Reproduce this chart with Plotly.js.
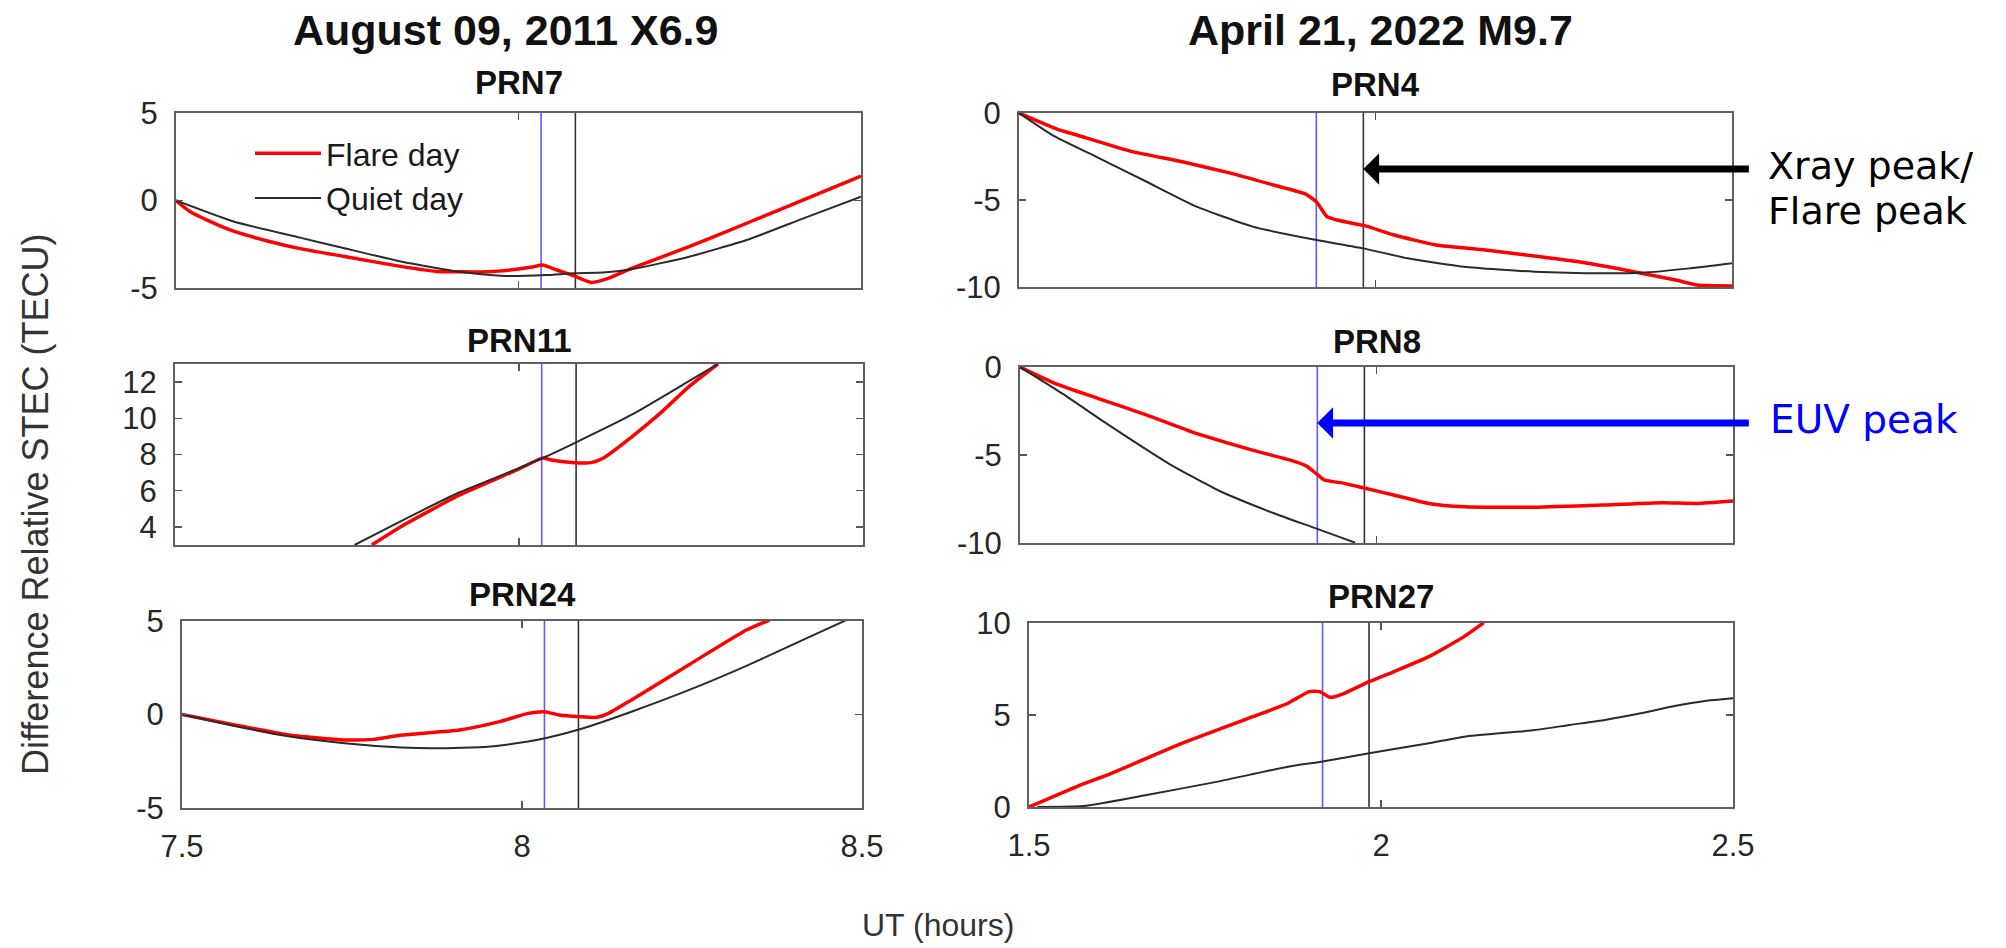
<!DOCTYPE html>
<html>
<head>
<meta charset="utf-8">
<script src="https://cdn.plot.ly/plotly-3.0.1.min.js"></script>
<style>html,body{margin:0;padding:0;background:#fff;}#chart{width:2006px;height:948px;}</style>
</head>
<body>
<div id="chart"></div>
<script>
// ---------------- DATA ----------------
// August 09, 2011 X6.9 — PRN7
var prn7FlareTime  = [7.5, 7.52, 7.56, 7.584, 7.632, 7.681, 7.746, 7.83, 7.88, 7.955, 7.997, 8.02, 8.035, 8.056, 8.081, 8.106, 8.131, 8.165, 8.249, 8.333, 8.416, 8.5];
var prn7Flare      = [0, -0.62, -1.38, -1.75, -2.3, -2.75, -3.2, -3.78, -4.05, -4.07, -3.93, -3.8, -3.69, -3.97, -4.31, -4.68, -4.45, -3.88, -2.64, -1.3, 0.03, 1.4];
var prn7QuietTime  = [7.5, 7.584, 7.681, 7.746, 7.83, 7.913, 7.98, 8.04, 8.081, 8.123, 8.165, 8.249, 8.333, 8.416, 8.5];
var prn7Quiet      = [0, -1.2, -2.12, -2.73, -3.5, -4.07, -4.31, -4.26, -4.16, -4.12, -3.93, -3.21, -2.26, -1.02, 0.22];
// PRN11
var prn11FlareTime = [7.786, 7.83, 7.913, 7.997, 8.034, 8.047, 8.08, 8.105, 8.122, 8.164, 8.205, 8.247, 8.289];
var prn11Flare     = [3.0, 4.05, 5.75, 7.15, 7.8, 7.7, 7.55, 7.55, 7.79, 8.98, 10.27, 11.75, 13.0];
var prn11QuietTime = [7.761, 7.83, 7.913, 7.997, 8.037, 8.08, 8.164, 8.247, 8.289];
var prn11Quiet     = [3.0, 4.35, 5.9, 7.2, 7.85, 8.62, 10.2, 12.05, 13.0];
// PRN24
var prn24FlareTime = [7.5, 7.57, 7.654, 7.739, 7.781, 7.823, 7.908, 7.967, 8.009, 8.033, 8.055, 8.085, 8.11, 8.127, 8.161, 8.245, 8.33, 8.364];
var prn24Flare     = [0, -0.5, -1.08, -1.36, -1.33, -1.1, -0.83, -0.38, 0.06, 0.15, -0.03, -0.12, -0.15, 0.06, 0.78, 2.65, 4.52, 5.05];
var prn24QuietTime = [7.5, 7.57, 7.654, 7.739, 7.823, 7.874, 7.95, 8.009, 8.034, 8.085, 8.161, 8.245, 8.33, 8.414, 8.477];
var prn24Quiet     = [0, -0.56, -1.15, -1.54, -1.77, -1.81, -1.72, -1.45, -1.27, -0.79, 0.15, 1.3, 2.6, 4.0, 5.05];

// April 21, 2022 M9.7 — PRN4
var prn4FlareTime  = [1.5, 1.555, 1.58, 1.659, 1.729, 1.798, 1.857, 1.902, 1.917, 1.932, 1.946, 1.986, 2.025, 2.085, 2.154, 2.223, 2.283, 2.362, 2.421, 2.451, 2.5];
var prn4Flare      = [0, -0.95, -1.25, -2.22, -2.8, -3.47, -4.14, -4.66, -5.1, -5.96, -6.15, -6.49, -7.0, -7.59, -7.87, -8.22, -8.54, -9.12, -9.6, -9.89, -9.94];
var prn4QuietTime  = [1.5, 1.55, 1.61, 1.679, 1.749, 1.828, 1.917, 1.983, 2.045, 2.124, 2.223, 2.322, 2.372, 2.441, 2.5];
var prn4Quiet      = [0, -1.35, -2.55, -3.95, -5.38, -6.53, -7.3, -7.78, -8.35, -8.83, -9.12, -9.21, -9.18, -8.93, -8.64];
// PRN8
var prn8FlareTime  = [1.5, 1.549, 1.609, 1.678, 1.747, 1.826, 1.886, 1.903, 1.915, 1.927, 1.955, 1.984, 2.024, 2.073, 2.123, 2.222, 2.321, 2.4, 2.449, 2.5];
var prn8Flare      = [0, -0.93, -1.78, -2.73, -3.77, -4.72, -5.38, -5.66, -6.04, -6.42, -6.61, -6.89, -7.27, -7.75, -7.94, -7.97, -7.84, -7.71, -7.75, -7.61];
var prn8QuietTime  = [1.5, 1.559, 1.628, 1.708, 1.777, 1.856, 1.915, 1.97];
var prn8Quiet      = [0, -1.5, -3.39, -5.47, -6.99, -8.31, -9.17, -9.98];
// PRN27
var prn27FlareTime = [1.5, 1.567, 1.617, 1.717, 1.818, 1.868, 1.898, 1.913, 1.928, 1.948, 1.983, 2.018, 2.068, 2.118, 2.146];
var prn27Flare     = [0, 1.1, 1.83, 3.46, 4.91, 5.64, 6.27, 6.27, 5.96, 6.18, 6.81, 7.35, 8.17, 9.26, 10.02];
var prn27QuietTime = [1.512, 1.577, 1.667, 1.768, 1.868, 1.915, 1.983, 2.068, 2.118, 2.218, 2.268, 2.318, 2.369, 2.419, 2.46, 2.5];
var prn27Quiet     = [0, 0.05, 0.65, 1.38, 2.19, 2.46, 2.92, 3.46, 3.82, 4.18, 4.46, 4.73, 5.09, 5.5, 5.76, 5.91];

// event markers: [Aug 2011, Apr 2022]
var euvPeakTimes  = [8.033, 1.917];
var xrayPeakTimes = [8.083, 1.983];

// titles and tick labels
var eventTitles = ['August 09, 2011 X6.9', 'April 21, 2022 M9.7'];
var prnTitles = ['PRN7', 'PRN4', 'PRN11', 'PRN8', 'PRN24', 'PRN27'];
var seriesNames = ['Flare day', 'Quiet day'];
var xTickValsAug = [7.5, 8, 8.5], xTickTextAug = ['7.5', '8', '8.5'];
var xTickValsApr = [1.5, 2, 2.5], xTickTextApr = ['1.5', '2', '2.5'];
var yTicks5  = [-5, 0, 5],   yTickText5  = ['-5', '0', '5'];
var yTicks10 = [-10, -5, 0], yTickText10 = ['-10', '-5', '0'];
var yTicks11 = [4, 6, 8, 10, 12], yTickText11 = ['4', '6', '8', '10', '12'];
var yTicks27 = [0, 5, 10],   yTickText27 = ['0', '5', '10'];

// ---------------- LAYOUT / TRACES ----------------
var W = 2006, H = 948;
function px2x(p) { return p / W; }
function px2y(p) { return 1 - p / H; }

var panels = [
  {ft: prn7FlareTime,  f: prn7Flare,  qt: prn7QuietTime,  q: prn7Quiet,  box: [176, 861, 113, 288], xr: [7.5, 8.5], yr: [-5, 5],   xt: [xTickValsAug, xTickTextAug], yt: [yTicks5, yTickText5],   ev: 0, lab: false, ty: 83},
  {ft: prn4FlareTime,  f: prn4Flare,  qt: prn4QuietTime,  q: prn4Quiet,  box: [1019, 1732, 113, 287], xr: [1.5, 2.5], yr: [-10, 0], xt: [xTickValsApr, xTickTextApr], yt: [yTicks10, yTickText10], ev: 1, lab: false, ty: 85},
  {ft: prn11FlareTime, f: prn11Flare, qt: prn11QuietTime, q: prn11Quiet, box: [175, 863, 364, 545], xr: [7.5, 8.5], yr: [3, 13],   xt: [xTickValsAug, xTickTextAug], yt: [yTicks11, yTickText11], ev: 0, lab: false, ty: 340},
  {ft: prn8FlareTime,  f: prn8Flare,  qt: prn8QuietTime,  q: prn8Quiet,  box: [1020, 1733, 367, 543], xr: [1.5, 2.5], yr: [-10, 0], xt: [xTickValsApr, xTickTextApr], yt: [yTicks10, yTickText10], ev: 1, lab: false, ty: 341},
  {ft: prn24FlareTime, f: prn24Flare, qt: prn24QuietTime, q: prn24Quiet, box: [182, 862, 621, 808], xr: [7.5, 8.5], yr: [-5, 5],   xt: [xTickValsAug, xTickTextAug], yt: [yTicks5, yTickText5],   ev: 0, lab: true, ty: 594},
  {ft: prn27FlareTime, f: prn27Flare, qt: prn27QuietTime, q: prn27Quiet, box: [1029, 1733, 623, 807], xr: [1.5, 2.5], yr: [0, 10],  xt: [xTickValsApr, xTickTextApr], yt: [yTicks27, yTickText27], ev: 1, lab: true, ty: 596}
];

var tickFont = {family: 'Liberation Sans, Arial, sans-serif', size: 31, color: '#262626'};
function axisBase(domain, range, tv, tt, showLabels, anchor, standoff) {
  return {
    domain: domain, range: range, anchor: anchor,
    tickmode: 'array', tickvals: tv, ticktext: tt, showticklabels: showLabels,
    ticks: 'inside', ticklen: 7, tickwidth: 1.5, tickcolor: '#555',
    showline: true, mirror: 'ticks', linecolor: '#606060', linewidth: 2,
    showgrid: false, zeroline: false, fixedrange: true,
    tickfont: tickFont, ticklabelstandoff: standoff
  };
}

var traces = [], shapes = [], annotations = [];
var layout = {
  width: W, height: H,
  margin: {l: 0, r: 0, t: 0, b: 0},
  paper_bgcolor: '#ffffff', plot_bgcolor: '#ffffff',
  showlegend: true,
  legend: {
    x: px2x(250), y: px2y(126), xanchor: 'left', yanchor: 'top',
    bgcolor: 'rgba(0,0,0,0)', borderwidth: 0, itemwidth: 66, tracegroupgap: 0,
    font: {family: 'Liberation Sans, Arial, sans-serif', size: 32, color: '#1a1a1a'}
  }
};

panels.forEach(function (p, i) {
  var n = i + 1, sx = n === 1 ? '' : String(n);
  var xa = 'x' + sx, ya = 'y' + sx;
  traces.push({x: p.ft, y: p.f, xaxis: xa, yaxis: ya, mode: 'lines', name: seriesNames[0],
    line: {color: '#ff0000', width: 3.5, shape: 'spline', smoothing: 0.5}, showlegend: n === 1, hoverinfo: 'skip'});
  traces.push({x: p.qt, y: p.q, xaxis: xa, yaxis: ya, mode: 'lines', name: seriesNames[1],
    line: {color: '#2a2a2a', width: 2, shape: 'spline', smoothing: 0.5}, showlegend: n === 1, hoverinfo: 'skip'});
  var xd = [px2x(p.box[0]), px2x(p.box[1])];
  var yd = [px2y(p.box[3]), px2y(p.box[2])];
  layout['xaxis' + sx] = axisBase(xd, p.xr, p.xt[0], p.xt[1], p.lab, ya, 10);
  layout['yaxis' + sx] = axisBase(yd, p.yr, p.yt[0], p.yt[1], true, xa, 10);
  shapes.push({type: 'line', layer: 'below', xref: xa, yref: ya + ' domain', x0: euvPeakTimes[p.ev], x1: euvPeakTimes[p.ev], y0: 0, y1: 1,
    line: {color: 'rgba(50,50,255,0.8)', width: 1.6}});
  shapes.push({type: 'line', layer: 'below', xref: xa, yref: ya + ' domain', x0: xrayPeakTimes[p.ev], x1: xrayPeakTimes[p.ev], y0: 0, y1: 1,
    line: {color: '#333333', width: 1.6}});
  annotations.push({text: prnTitles[i], xref: xa + ' domain', x: 0.5, yref: 'paper', y: px2y(p.ty), xanchor: 'center', yanchor: 'middle',
    showarrow: false, font: {family: 'Liberation Sans, Arial, sans-serif', size: 33, color: '#111', weight: 'bold'}});
});

var titleFont = {family: 'Liberation Sans, Arial, sans-serif', size: 43, color: '#111', weight: 'bold'};
annotations.push({text: eventTitles[0], xref: 'paper', yref: 'paper', x: px2x(505), y: px2y(30), xanchor: 'center', yanchor: 'middle', showarrow: false, font: titleFont});
annotations.push({text: eventTitles[1], xref: 'paper', yref: 'paper', x: px2x(1380), y: px2y(30), xanchor: 'center', yanchor: 'middle', showarrow: false, font: titleFont});

annotations.push({text: 'Difference Relative STEC (TECU)', xref: 'paper', yref: 'paper', x: px2x(35), y: px2y(505), textangle: -90,
  xanchor: 'center', yanchor: 'middle', showarrow: false, font: {family: 'Liberation Sans, Arial, sans-serif', size: 36, color: '#333'}});
annotations.push({text: 'UT (hours)', xref: 'paper', yref: 'paper', x: px2x(938), y: px2y(925),
  xanchor: 'center', yanchor: 'middle', showarrow: false, font: {family: 'Liberation Sans, Arial, sans-serif', size: 32, color: '#333'}});

// arrows pointing at the peak lines of the April 2022 event
annotations.push({text: '', xref: 'x2', yref: 'paper', x: xrayPeakTimes[1], y: px2y(169), ax: 387, ay: 0,
  showarrow: true, arrowhead: 1, arrowsize: 0.75, arrowwidth: 7, arrowcolor: '#000000', standoff: 0});
annotations.push({text: '', xref: 'x4', yref: 'paper', x: euvPeakTimes[1], y: px2y(423), ax: 433, ay: 0,
  showarrow: true, arrowhead: 1, arrowsize: 0.75, arrowwidth: 7, arrowcolor: '#0000ff', standoff: 0});
var noteFont = {family: 'DejaVu Sans, sans-serif', size: 38, color: '#000'};
annotations.push({text: 'Xray peak/', xref: 'paper', yref: 'paper', x: px2x(1766), y: px2y(166), xanchor: 'left', yanchor: 'middle', showarrow: false, font: noteFont});
annotations.push({text: 'Flare peak', xref: 'paper', yref: 'paper', x: px2x(1766), y: px2y(211), xanchor: 'left', yanchor: 'middle', showarrow: false, font: noteFont});
annotations.push({text: 'EUV peak', xref: 'paper', yref: 'paper', x: px2x(1768), y: px2y(420), xanchor: 'left', yanchor: 'middle', showarrow: false,
  font: {family: 'DejaVu Sans, sans-serif', size: 39, color: '#0000ff'}});

layout.shapes = shapes;
layout.annotations = annotations;

Plotly.newPlot('chart', traces, layout, {displayModeBar: false, staticPlot: true});
</script>
</body>
</html>
